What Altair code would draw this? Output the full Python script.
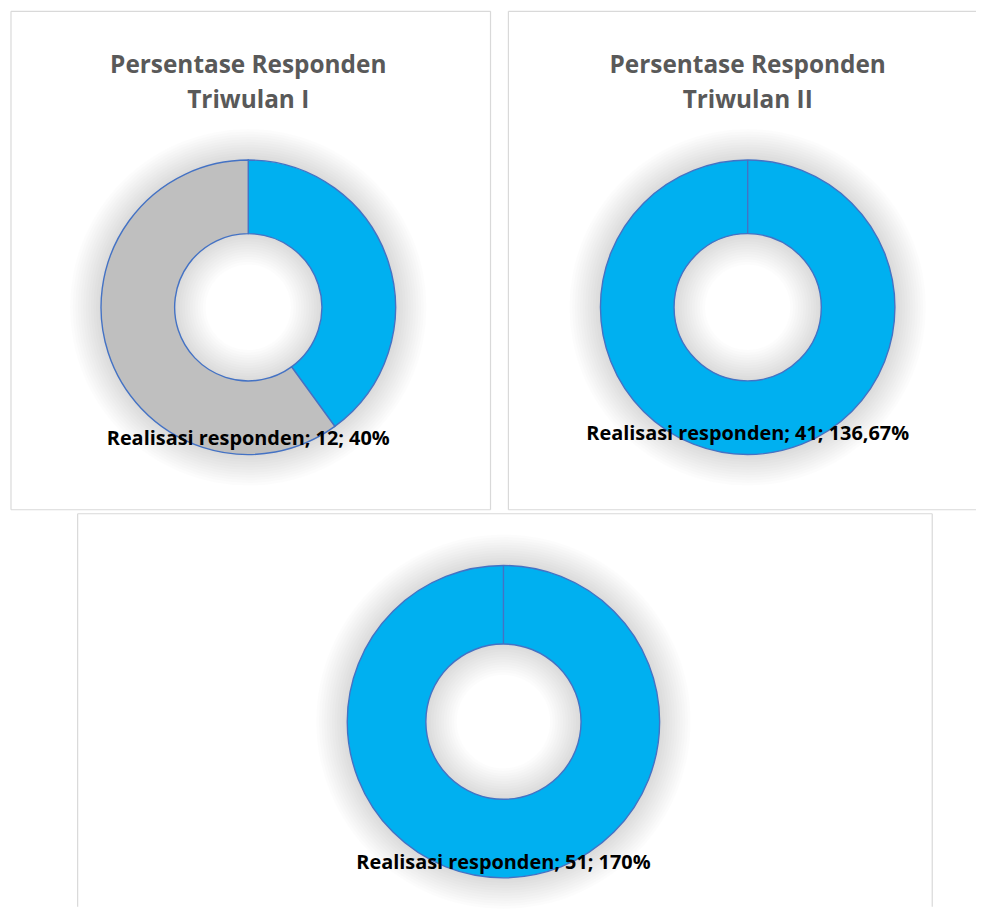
import math
import altair as alt
import pandas as pd

# ---- data ----
kategori = ["Realisasi responden", "Sisa target"]
warna = ["#00B0F0", "#BFBFBF"]
realisasi = [12, 41, 51]
sisa_target = [18, 0, 0]
persen = ["40%", "136,67%", "170%"]
judul = [["Persentase Responden", "Triwulan I"],
         ["Persentase Responden", "Triwulan II"],
         []]

BORDER = "#D9D9D9"
FONT = "Open Sans"
dummy = pd.DataFrame({"d": [0]})


def border(w, h, sides):
    layers = []
    segs = {
        "left": dict(x=alt.value(0), y=alt.value(0), y2=alt.value(h)),
        "right": dict(x=alt.value(w), y=alt.value(0), y2=alt.value(h)),
        "top": dict(x=alt.value(0), x2=alt.value(w), y=alt.value(0)),
        "bottom": dict(x=alt.value(0), x2=alt.value(w), y=alt.value(h)),
    }
    for s in sides:
        layers.append(alt.Chart(dummy).mark_rule(color=BORDER, strokeWidth=1.2).encode(**segs[s]))
    return layers


def panel(i, w, h, cx, cy, r_out, r_in, title_y, label_y, sides):
    layers = border(w, h, sides)
    # soft shadow
    n, step = 12, 2.6
    for k in range(1, n + 1):
        layers.append(
            alt.Chart(dummy).mark_arc(
                theta=0, theta2=2 * math.pi,
                radius=r_out + step * k, radius2=max(r_in - step * k, 0),
                color="black", opacity=0.011,
            ).encode(x=alt.value(cx), y=alt.value(cy))
        )
    data = pd.DataFrame({
        "kategori": kategori,
        "nilai": [realisasi[i], sisa_target[i]],
        "urut": [0, 1],
    })
    donut = alt.Chart(data).mark_arc(
        radius=r_out, radius2=r_in, stroke="#4472C4", strokeWidth=1.4
    ).encode(
        theta=alt.Theta("nilai:Q", stack=True),
        color=alt.Color("kategori:N", scale=alt.Scale(domain=kategori, range=warna), legend=None),
        order=alt.Order("urut:Q"),
        x=alt.value(cx), y=alt.value(cy),
    )
    layers.append(donut)
    for j, line in enumerate(judul[i]):
        layers.append(
            alt.Chart(dummy).mark_text(
                font=FONT, fontSize=24.5, fontWeight="bold", color="#595959", baseline="middle"
            ).encode(text=alt.value(line), x=alt.value(cx), y=alt.value(title_y + 35 * j))
        )
    label = f"{kategori[0]}; {realisasi[i]}; {persen[i]}"
    layers.append(
        alt.Chart(dummy).mark_text(
            font=FONT, fontSize=20, fontWeight="bold", color="black", baseline="middle"
        ).encode(text=alt.value(label), x=alt.value(cx), y=alt.value(label_y))
    )
    return alt.layer(*layers).properties(width=w, height=h)


p1 = panel(0, 482, 501, 238.5, 297.5, 148, 74, 55, 430, ["left", "top", "right", "bottom"])
p2 = panel(1, 470, 501, 240.5, 297.5, 148, 74, 55, 425, ["left", "top", "bottom"])
p3 = panel(2, 859, 395, 428, 209, 157, 78, 0, 351, ["left", "top", "right"])

spacer = alt.Chart(dummy).mark_point(opacity=0).encode(
    x=alt.value(0), y=alt.value(0)
).properties(width=66, height=395)

top = alt.hconcat(p1, p2, spacing=16).resolve_scale(theta="independent")
bottom = alt.hconcat(spacer, p3, spacing=0).resolve_scale(theta="independent")
chart = alt.vconcat(top, bottom, spacing=0).resolve_scale(theta="independent").properties(
    padding=0
).configure_view(stroke=None)

chart.save("out.html", embed_options={"renderer": "svg", "actions": False})
